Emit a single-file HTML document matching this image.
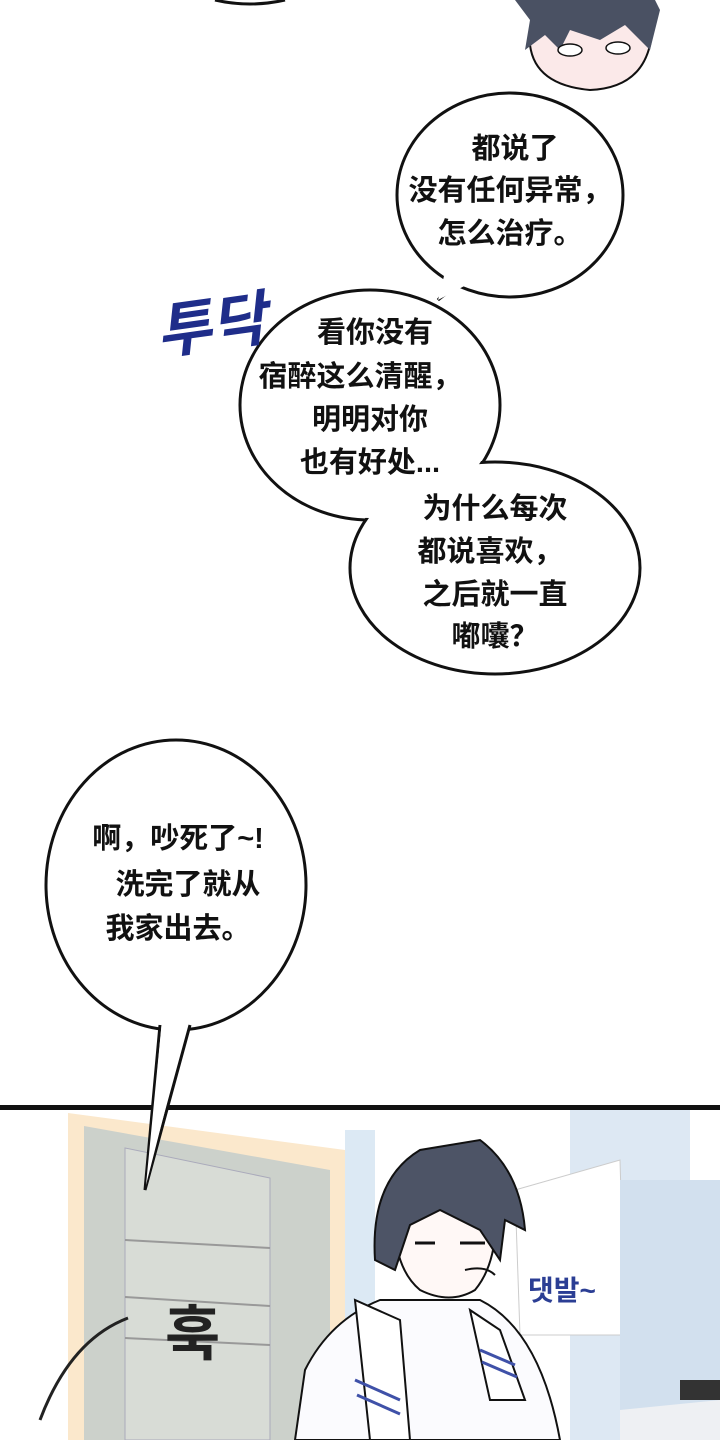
<!DOCTYPE html>
<html><head><meta charset="utf-8"><style>
body{margin:0;background:#fff;}
svg{display:block}
text{font-family:"Liberation Sans","Noto Sans CJK SC",sans-serif;font-weight:bold;}
</style></head><body>
<svg width="720" height="1440" viewBox="0 0 720 1440" xmlns="http://www.w3.org/2000/svg">
<rect width="720" height="1440" fill="#fff"/>
<path d="M215 0 Q250 8 285 0" fill="none" stroke="#111" stroke-width="3"/>
<g>
<path d="M530 45 Q535 85 590 90 Q640 88 650 45 L655 20 Q640 0 600 5 L540 10 Z" fill="#fbe9e9" stroke="#111" stroke-width="2"/>
<path d="M515 0 L530 20 L525 50 L545 35 L560 50 L570 30 L600 40 L625 25 L650 50 L660 10 L655 0 Z" fill="#4a5163"/>
<ellipse cx="570" cy="50" rx="12" ry="6" fill="#fff" stroke="#111" stroke-width="1.5"/>
<ellipse cx="618" cy="48" rx="12" ry="6" fill="#fff" stroke="#111" stroke-width="1.5"/>
</g>
<path d="M470 275 L438 300 L455 280" fill="#fff" stroke="#111" stroke-width="3"/>
<ellipse cx="510" cy="195" rx="113" ry="102" fill="#fff" stroke="#111" stroke-width="3"/>
<path d="M445 272 L438 300 L470 283 Z" fill="#fff"/>
<ellipse cx="370" cy="405" rx="130" ry="115" fill="#fff" stroke="#111" stroke-width="3"/>
<ellipse cx="495" cy="568" rx="145" ry="106" fill="#fff" stroke="#111" stroke-width="3"/>
<ellipse cx="370" cy="405" rx="128" ry="113" fill="#fff"/>
<ellipse cx="495" cy="568" rx="143" ry="104" fill="#fff"/>
<ellipse cx="176" cy="885" rx="130" ry="145" fill="#fff" stroke="#111" stroke-width="3"/>
<text x="155" y="345" font-size="60" fill="#1f2d8a" font-style="italic" font-family="NanumGothic,sans-serif" transform="rotate(-8 220 320)">투닥</text>
<g font-size="29" fill="#111" text-anchor="middle">
<text x="515" y="158">都说了</text>
<text x="510" y="200">没有任何异常，</text>
<text x="510" y="243">怎么治疗。</text>
<text x="375" y="342">看你没有</text>
<text x="360" y="386">宿醉这么清醒，</text>
<text x="370" y="429">明明对你</text>
<text x="370" y="472">也有好处...</text>
<text x="495" y="518">为什么每次</text>
<text x="490" y="561">都说喜欢，</text>
<text x="495" y="604">之后就一直</text>
<text x="495" y="646">嘟囔？</text>
<text x="178" y="848">啊，吵死了~!</text>
<text x="188" y="894">洗完了就从</text>
<text x="178" y="938">我家出去。</text>
</g>
<rect x="0" y="1105" width="720" height="5" fill="#111"/>
<rect x="570" y="1110" width="120" height="330" fill="#dde8f3"/>
<rect x="345" y="1130" width="30" height="310" fill="#dce9f4"/>
<path d="M68 1113 L345 1150 L345 1440 L68 1440 Z" fill="#fbe8cc"/>
<path d="M84 1126 L330 1170 L330 1440 L84 1440 Z" fill="#ccd1cb"/>
<path d="M125 1148 L270 1178 L270 1440 L125 1440 Z" fill="#d8dcd6" stroke="#aab" stroke-width="1"/>
<line x1="125" y1="1297" x2="270" y2="1306" stroke="#999" stroke-width="2"/>
<line x1="125" y1="1338" x2="270" y2="1345" stroke="#999" stroke-width="2"/>
<line x1="125" y1="1240" x2="270" y2="1248" stroke="#999" stroke-width="2"/>
<path d="M515 1190 L620 1160 L625 1335 L520 1335 Z" fill="#fff" stroke="#ccc"/>
<rect x="620" y="1180" width="100" height="260" fill="#d2e0ee"/>
<!-- bubble 4 tail over panel -->
<path d="M160 1025 L145 1190 L190 1025" fill="#fff" stroke="#111" stroke-width="3"/>
<path d="M162 1020 L146 1185 L188 1020 Z" fill="#fff"/>
<text x="165" y="1355" font-size="60" fill="#222" font-family="NanumGothic,sans-serif">훅</text>
<text x="528" y="1300" font-size="28" fill="#2b3e94" font-weight="normal" font-family="NanumGothic,sans-serif">댓발~</text>
<path d="M40 1420 Q70 1340 128 1318" fill="none" stroke="#222" stroke-width="3"/>
<path d="M295 1440 L305 1370 Q330 1320 380 1300 L480 1300 Q540 1330 560 1440 Z" fill="#fbfbfe" stroke="#111" stroke-width="2"/>
<path d="M355 1300 L370 1440 L410 1440 L400 1320 Z M470 1310 L500 1330 L525 1400 L490 1400 Z" fill="#fff" stroke="#111" stroke-width="2"/>
<path d="M355 1380 L400 1400 M357 1395 L400 1414 M480 1350 L515 1365 M482 1362 L517 1377" stroke="#3f51a8" stroke-width="3"/>
<path d="M395 1200 Q390 1265 420 1290 Q450 1305 475 1290 Q500 1260 495 1200 Z" fill="#fff8f6" stroke="#111" stroke-width="2"/>
<path d="M375 1260 Q370 1180 420 1150 L480 1140 Q520 1170 525 1230 L505 1220 L500 1260 L480 1230 L440 1210 L410 1225 L395 1270 Z" fill="#4d5466" stroke="#111" stroke-width="2"/>
<path d="M415 1243 h20 M460 1243 h25" stroke="#111" stroke-width="3"/>
<path d="M465 1270 q20 -5 30 5" stroke="#111" fill="none" stroke-width="2"/>
<path d="M620 1410 L720 1400 L720 1440 L620 1440 Z" fill="#eef0f3"/>
<rect x="680" y="1380" width="40" height="20" fill="#333"/>
</svg>
</body></html>
